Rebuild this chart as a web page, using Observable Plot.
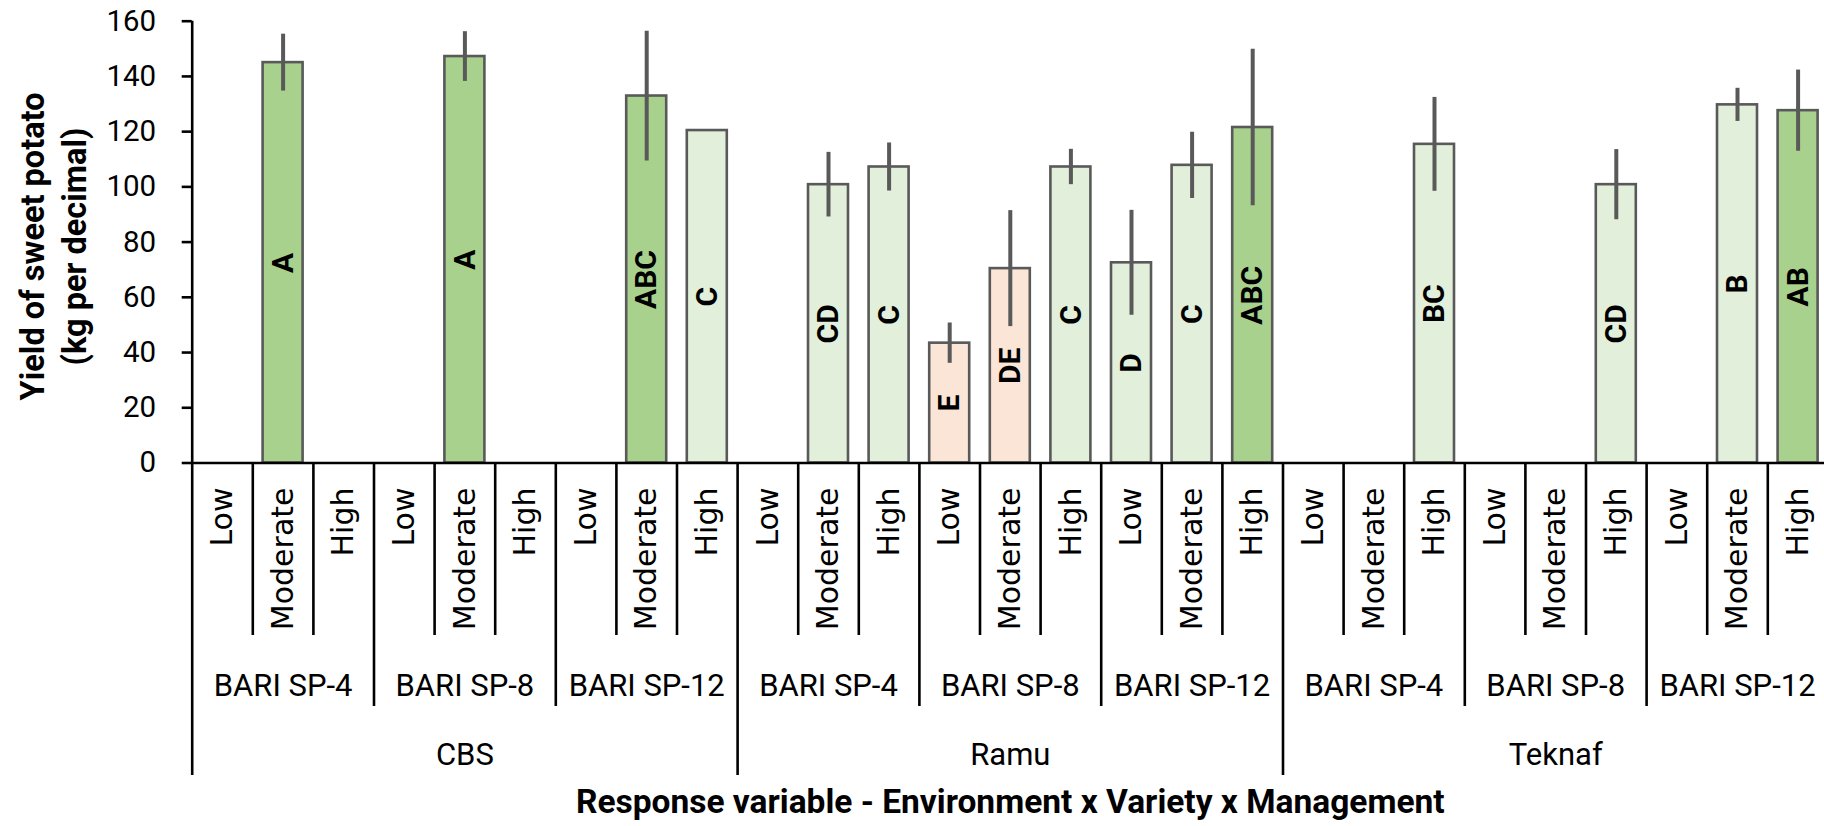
<!DOCTYPE html>
<html>
<head>
<meta charset="utf-8">
<script src="https://cdn.jsdelivr.net/npm/d3@7"></script>
<script src="https://cdn.jsdelivr.net/npm/@observablehq/plot@0.6"></script>
<style>
html, body { margin: 0; padding: 0; background: #fff; overflow: hidden; }
</style>
</head>
<body>
<div id="chart"></div>
<script>
// ---- data ----
const environments = ["CBS", "Ramu", "Teknaf"];
const varieties = ["BARI SP-4", "BARI SP-8", "BARI SP-12"];
const managements = ["Low", "Moderate", "High"];

// order: environment -> variety -> management
const yields = [
  null, 145.0, null,   null, 147.2, null,   null, 132.9, 120.4,
  null, 100.8, 107.2,  43.4, 70.4, 107.2,   72.5, 107.8, 121.5,
  null, null, 115.4,   null, null, 100.8,   null, 129.7, 127.6
];
const errors = [
  null, 10.3, null,    null, 9.0, null,     null, 23.5, null,
  null, 11.7, 8.7,     7.3, 21.0, 6.4,      19.0, 12.0, 28.3,
  null, null, 17.0,    null, null, 12.7,    null, 6.0, 14.7
];
const letters = [
  "", "A", "",         "", "A", "",         "", "ABC", "C",
  "", "CD", "C",       "E", "DE", "C",      "D", "C", "ABC",
  "", "", "BC",        "", "", "CD",        "", "B", "AB"
];
const groups = [
  "", "top", "",       "", "top", "",       "", "top", "mid",
  "", "mid", "mid",    "low", "low", "mid", "mid", "mid", "top",
  "", "", "mid",       "", "", "mid",       "", "mid", "top"
];
const yTicks = [0, 20, 40, 60, 80, 100, 120, 140, 160];
const yTitle = "Yield of sweet potato\n(kg per decimal)";
const xTitle = "Response variable - Environment x Variety x Management";

// ---- styles ----
const fills = {top: "#a9d18e", mid: "#e2efda", low: "#fbe5d6"};
const W = 1824, H = 826;
const ML = 191.7, MT = 20.7, BASE = 462.5, XEND = 1827.9;
const AXIS = "#000";
const BAR_STROKE = "#595959";

// ---- derived tables ----
const rows = [];
environments.forEach((env, e) => varieties.forEach((variety, v) => managements.forEach((mgmt, m) => {
  const i = e * 9 + v * 3 + m;
  rows.push({i, env, variety, mgmt, value: yields[i], err: errors[i], letter: letters[i], group: groups[i]});
})));
const n = rows.length;
const bars = rows.filter(d => d.value != null);
const errRows = bars.filter(d => d.err != null);

const varietyRows = [];
environments.forEach((env, e) => varieties.forEach((variety, v) => varietyRows.push({k: e * 3 + v, variety})));
const envRows = environments.map((env, e) => ({k: e, env}));

const bounds = d3.range(1, n + 1).map(b => ({b, level: b % 9 === 0 ? "env" : b % 3 === 0 ? "variety" : "mgmt"}));
const levelDepth = {mgmt: 635 - BASE, variety: 706 - BASE, env: 775 - BASE};

const yMax = d3.max(yTicks);

const chart = Plot.plot({
  width: W,
  height: H,
  marginLeft: ML,
  marginTop: MT,
  marginBottom: H - BASE,
  marginRight: 0,
  style: {fontFamily: "Roboto", background: "#fff"},
  x: {type: "linear", domain: [0, n], range: [ML, XEND], axis: null},
  y: {domain: [0, yMax]},
  color: {type: "identity"},
  marks: [
    Plot.axisY({
      ticks: yTicks, tickSize: 10, tickPadding: 26, tickFormat: d => String(d),
      fontSize: 29.5, fontFamily: "Roboto", color: AXIS, strokeWidth: 2.6, label: null
    }),
    Plot.rect(bars, {
      x1: d => d.i, x2: d => d.i + 1, y1: d => 0, y2: "value",
      fill: d => fills[d.group], stroke: BAR_STROKE, strokeWidth: 2.6,
      insetLeft: 10.3, insetRight: 10.3
    }),
    Plot.ruleX(errRows, {
      x: d => d.i + 0.5, y1: d => d.value - d.err, y2: d => d.value + d.err,
      stroke: BAR_STROKE, strokeWidth: 4
    }),
    Plot.text(bars, {
      x: d => d.i + 0.5, y: d => d.value / 2, text: "letter", rotate: -90,
      fontSize: 30, fontWeight: 700, fontFamily: "Roboto", fill: "#000", lineAnchor: "middle"
    }),
    // baseline
    Plot.ruleY([0], {stroke: AXIS, strokeWidth: 2.6}),
    // y axis line, continuing down as the left edge of the category table
    Plot.ruleX([0], {x: d => d, y1: d => yMax, y2: d => 0, insetBottom: -levelDepth.env, stroke: AXIS, strokeWidth: 2.6}),
    // category dividers
    ...["mgmt", "variety", "env"].map(level =>
      Plot.ruleX(bounds.filter(d => d.level === level), {
        x: "b", y1: d => 0, y2: d => 0, insetBottom: -levelDepth[level], stroke: AXIS, strokeWidth: 2.6
      })
    ),
    // management labels
    Plot.text(rows, {
      x: d => d.i + 0.5, y: d => 0, text: "mgmt", rotate: -90, textAnchor: "end", lineAnchor: "middle",
      dy: 24.5, fontSize: 30, fontFamily: "DejaVu Sans", fill: "#000"
    }),
    // variety labels
    Plot.text(varietyRows, {
      x: d => d.k * 3 + 1.5, y: d => 0, text: "variety", dy: 223, lineAnchor: "middle",
      fontSize: 31, fontFamily: "Roboto", fill: "#000"
    }),
    // environment labels
    Plot.text(envRows, {
      x: d => d.k * 9 + 4.5, y: d => 0, text: "env", dy: 292.5, lineAnchor: "middle",
      fontSize: 31, fontFamily: "Roboto", fill: "#000"
    }),
    // x title
    Plot.text([xTitle], {
      x: () => n / 2, y: () => 0, text: d => d, dy: 339.5, lineAnchor: "middle",
      fontSize: 33.5, fontWeight: 700, fontFamily: "Roboto", fill: "#000"
    }),
    // y title
    Plot.text([yTitle], {
      frameAnchor: "left", text: d => d, rotate: -90, dx: -140.85, dy: 4.4, lineHeight: 1.3,
      textAnchor: "middle", lineAnchor: "middle", fontSize: 32.5, fontWeight: 700, fontFamily: "Roboto", fill: "#000"
    })
  ]
});
document.getElementById("chart").appendChild(chart);
</script>
</body>
</html>
